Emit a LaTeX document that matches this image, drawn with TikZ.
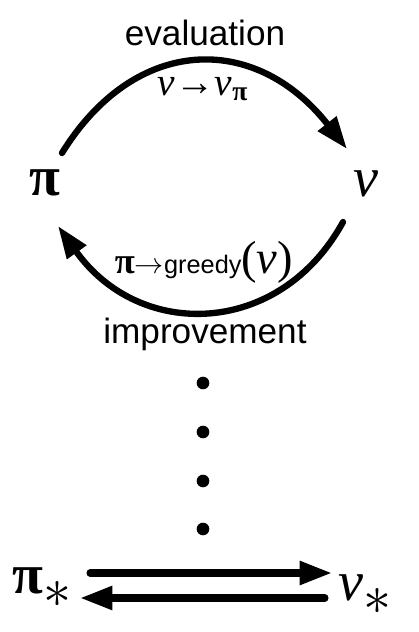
\documentclass[tikz,border=0pt]{standalone}
\usepackage{amsmath}
\usepackage{fontspec}
\setmainfont{Liberation Sans}
\newfontfamily\tnr{Liberation Serif}
\usetikzlibrary{arrows.meta}

\tikzset{
  bigsym/.style={font=\fontsize{40}{48}\selectfont, inner sep=0pt, anchor=base},
  phase/.style={font=\fontsize{25}{30}\selectfont, inner sep=0pt, anchor=base},
  looparrow/.style={line width=4.5pt, line cap=round, -{Triangle[length=23pt,width=16pt]}},
  swaparrow/.style={line width=5pt, line cap=round, -{Triangle[length=23pt,width=16pt]}},
  dotmark/.style={circle, fill, inner sep=0pt, minimum size=9pt}
}
\newcommand{\starsub}{$_{\scalebox{1.6}{$\ast$}}$}

\begin{document}
\begin{tikzpicture}[x=0.025cm, y=-0.025cm]
  \useasboundingbox (0,0) rectangle (419,632);

  % policy and value
  \node[bigsym] (pi) at (45,195) {\tnr\bfseries π};
  \node[bigsym] (v) at (366,196) {\tnr\itshape v};

  % phase names
  \node[phase] (evallbl) at (205,45) {evaluation};
  \node[phase] (implbl) at (205,343) {improvement};

  % labels on the arcs
  \node[inner sep=0pt, anchor=base, font=\fontsize{28}{32}\selectfont] (evalmath) at (203,95)
    {{\tnr\itshape v}{\tnr →}{\tnr\itshape v}$_{\text{\tnr\bfseries π}}$};
  \node[inner sep=0pt, anchor=base] (impmath) at (204,273)
    {{\fontsize{26}{30}\selectfont\tnr\bfseries π}{\fontsize{20}{22}\selectfont$\rightarrow$}{\fontsize{18}{22}\selectfont greedy}%
     {\fontsize{33}{40}\selectfont\tnr (}{\fontsize{33}{40}\selectfont\tnr\itshape v}{\fontsize{33}{40}\selectfont\tnr )}};

  % arcs
  \coordinate (evalstart) at (62,153);
  \coordinate (evalend) at (347,149);
  \coordinate (impstart) at (343,222);
  \coordinate (impend) at (58,226);
  \draw[looparrow] (evalstart) .. controls (135,35) and (255,32) .. (evalend);
  \draw[looparrow] (impstart) .. controls (280,337) and (140,341) .. (impend);

  % dots
  \foreach \y [count=\i] in {383,432,481,529}
    \node[dotmark] (dot\i) at (203,\y) {};

  % optimal pair
  \node[bigsym] (pistar) at (42,593) {{\tnr\bfseries π}\starsub};
  \node[bigsym] (vstar) at (365,600) {{\tnr\itshape v}\starsub};
  \coordinate (upstart) at (90,573);
  \coordinate (upend) at (332,573);
  \coordinate (downstart) at (325,598);
  \coordinate (downend) at (80,598);
  \draw[swaparrow] (upstart) -- (upend);
  \draw[swaparrow] (downstart) -- (downend);
\end{tikzpicture}
\end{document}
